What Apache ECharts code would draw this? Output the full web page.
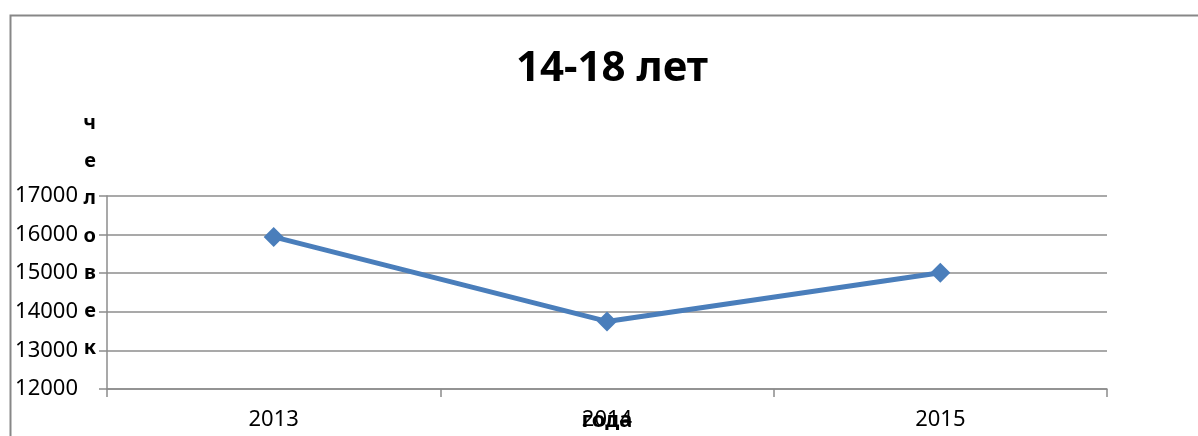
<!DOCTYPE html>
<html>
<head>
<meta charset="utf-8">
<script src="https://cdn.jsdelivr.net/npm/echarts@6/dist/echarts.min.js"></script>
<style>
    html, body { margin: 0; padding: 0; background: #fff; }
    #main { width: 1198px; height: 436px; }
</style>
</head>
<body>
<div id="main"></div>
<script>
// данные графика
var years = ['2013', '2014', '2015'];
var people = [15940, 13750, 15010];
var yTicks = {min: 12000, max: 17000, step: 1000};

var chart = echarts.init(document.getElementById('main'));
var gray = '#8c8c8c';

// подпись оси Y столбиком по буквам (пустые строки снизу поднимают её вверх)
var yName = 'человек'.split('').join('\n') + '\n \n \n ';

var option = {
    backgroundColor: '#fff',
    animation: false,
    title: {
        text: '14-18 лет',
        left: 607,
        top: 43,
        textAlign: 'center',
        textStyle: {
            fontFamily: 'Noto Sans',
            fontWeight: 'bold',
            fontSize: 42,
            color: '#000'
        }
    },
    // рамка диаграммы
    graphic: [{
        type: 'rect',
        shape: {x: 10.5, y: 15.5, width: 1400, height: 600},
        style: {fill: 'none', stroke: '#878787', lineWidth: 2},
        silent: true
    }],
    grid: {
        left: 107,
        right: 91,
        top: 196,
        bottom: 47,
        containLabel: false,
        outerBoundsMode: 'none'
    },
    xAxis: {
        type: 'category',
        data: years,
        boundaryGap: true,
        name: 'года',
        nameLocation: 'middle',
        nameGap: 21,
        nameMoveOverlap: false,
        nameTextStyle: {
            fontFamily: 'Noto Sans',
            fontWeight: 'bold',
            fontSize: 22,
            color: '#000'
        },
        axisLine: {lineStyle: {color: gray, width: 1.5}},
        axisTick: {show: true, length: 8, interval: 0, lineStyle: {color: gray, width: 1.5}},
        axisLabel: {
            margin: 20,
            fontFamily: 'Noto Sans',
            fontSize: 22,
            color: '#000'
        }
    },
    yAxis: {
        type: 'value',
        min: yTicks.min,
        max: yTicks.max,
        interval: yTicks.step,
        name: yName,
        nameLocation: 'middle',
        nameRotate: 0,
        nameGap: 11,
        nameMoveOverlap: false,
        nameTextStyle: {
            fontFamily: 'Noto Sans',
            fontWeight: 'bold',
            fontSize: 20,
            lineHeight: 37.5,
            color: '#000'
        },
        axisLine: {show: true, lineStyle: {color: gray, width: 1.5}},
        axisTick: {show: true, length: 8, lineStyle: {color: gray, width: 1.5}},
        splitLine: {lineStyle: {color: gray, width: 1.5}},
        axisLabel: {
            margin: 29,
            showMinLabel: true,
            showMaxLabel: true,
            hideOverlap: false,
            fontFamily: 'Noto Sans',
            fontSize: 22,
            color: '#000',
            formatter: function (v) { return String(v); }
        }
    },
    series: [{
        type: 'line',
        data: people,
        symbol: 'diamond',
        symbolSize: 20,
        lineStyle: {color: '#4a7ebb', width: 5},
        itemStyle: {color: '#4a7ebb'}
    }]
};

chart.setOption(option);
</script>
</body>
</html>
